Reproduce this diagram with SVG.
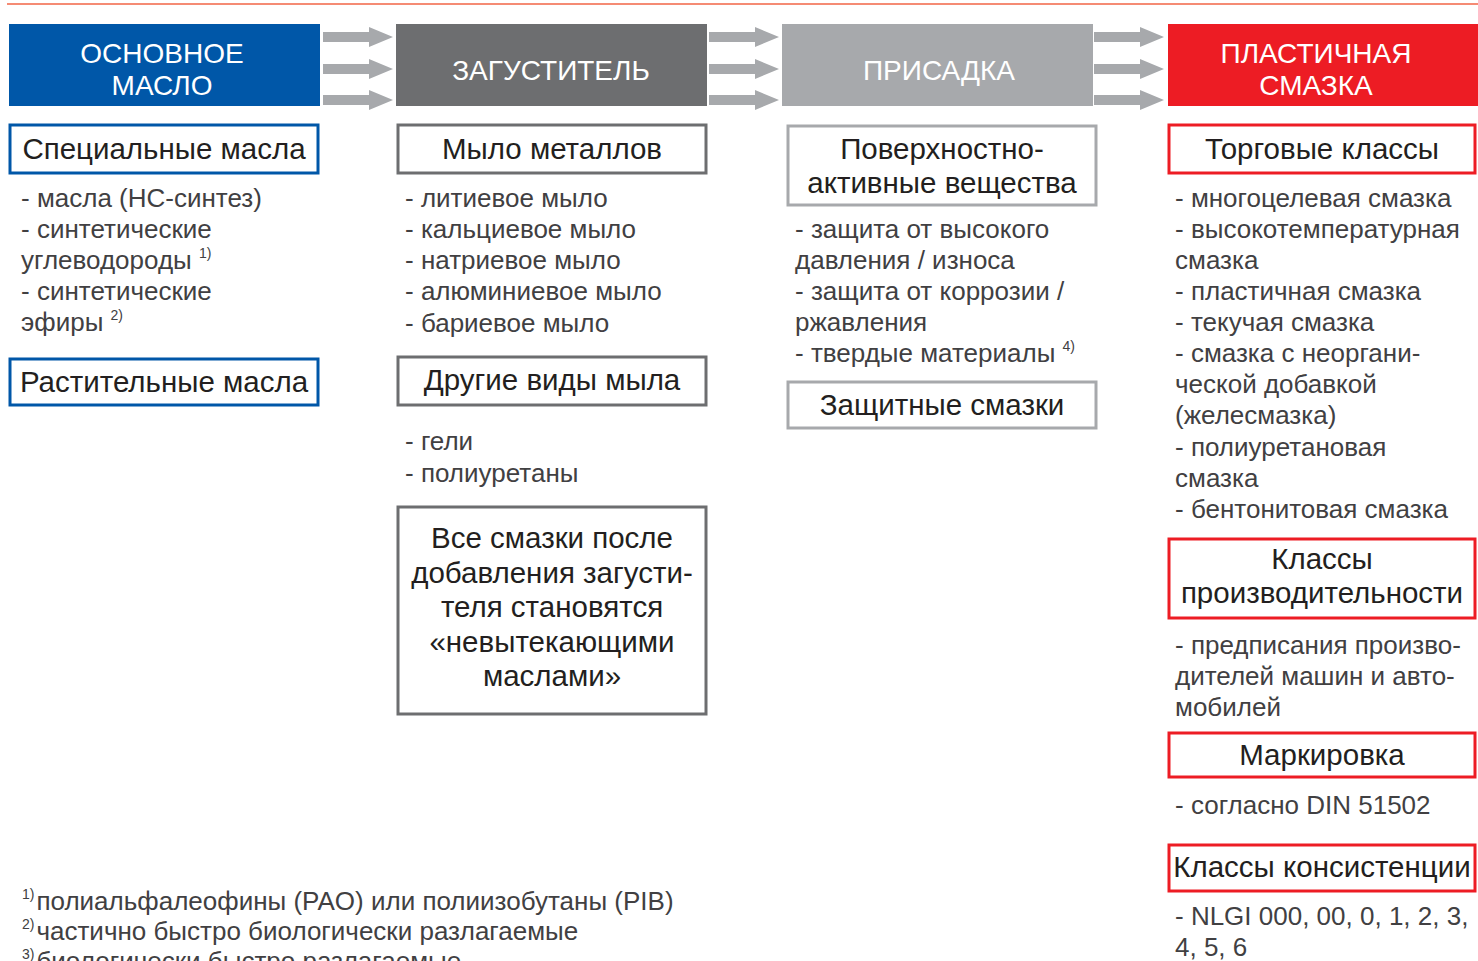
<svg xmlns="http://www.w3.org/2000/svg" width="1478" height="961" viewBox="0 0 1478 961">
<defs>
<style>
.hdr{font-family:"Liberation Sans",Arial,sans-serif;font-size:28px;fill:#ffffff;text-anchor:middle}
.ttl{font-family:"Liberation Sans",Arial,sans-serif;font-size:29.5px;fill:#231f20;text-anchor:middle}
.lst{font-family:"Liberation Sans",Arial,sans-serif;font-size:26px;fill:#414042}
.sup{font-size:14px}
.bx{fill:#ffffff;stroke-width:3}
.blue{stroke:#0057a8}
.dg{stroke:#6d6e70}
.lg{stroke:#a7a9ac}
.red{stroke:#ed1c24}
.arr{fill:#a7a9ac}
</style>
<symbol id="ar" overflow="visible"><path d="M0,-5 H46 V-10 L70,0 L46,10 V5 H0 Z"/></symbol>
</defs>
<rect width="1478" height="961" fill="#ffffff"/>
<line x1="7" y1="4" x2="1478" y2="4" stroke="#f58b74" stroke-width="2"/>

<g id="connectors" class="arr">
<use href="#ar" x="323" y="37"/><use href="#ar" x="323" y="69"/><use href="#ar" x="323" y="100"/>
<use href="#ar" x="709" y="37"/><use href="#ar" x="709" y="69"/><use href="#ar" x="709" y="100"/>
<use href="#ar" x="1094" y="37"/><use href="#ar" x="1094" y="69"/><use href="#ar" x="1094" y="100"/>
</g>

<g id="h-base-oil">
<rect x="9" y="24" width="311" height="82" fill="#0057a8"/>
<text class="hdr" x="162" y="63">ОСНОВНОЕ</text>
<text class="hdr" x="162" y="95">МАСЛО</text>
</g>
<g id="h-thickener">
<rect x="396" y="24" width="311" height="82" fill="#6d6e70"/>
<text class="hdr" x="551" y="80" fill="#f2f2f2">ЗАГУСТИТЕЛЬ</text>
</g>
<g id="h-additive">
<rect x="782" y="24" width="311" height="82" fill="#a7a9ac"/>
<text class="hdr" x="939" y="80">ПРИСАДКА</text>
</g>
<g id="h-grease">
<rect x="1168" y="24" width="310" height="82" fill="#ed1c24"/>
<text class="hdr" x="1316" y="63">ПЛАСТИЧНАЯ</text>
<text class="hdr" x="1316" y="95">СМАЗКА</text>
</g>

<g id="n-special-oils">
<rect class="bx blue" x="10" y="125" width="308" height="48"/>
<text class="ttl" x="164" y="159">Специальные масла</text>
</g>
<g id="l-special-oils" class="lst">
<text x="21" y="207">- масла (НС-синтез)</text>
<text x="21" y="238">- синтетические</text>
<text x="21" y="269">углеводороды <tspan class="sup" dy="-11">1)</tspan></text>
<text x="21" y="300">- синтетические</text>
<text x="21" y="331">эфиры <tspan class="sup" dy="-11">2)</tspan></text>
</g>
<g id="n-veg-oils">
<rect class="bx blue" x="10" y="359" width="308" height="46"/>
<text class="ttl" x="164" y="392">Растительные масла</text>
</g>

<g id="n-metal-soap">
<rect class="bx dg" x="398" y="125" width="308" height="48"/>
<text class="ttl" x="552" y="159">Мыло металлов</text>
</g>
<g id="l-metal-soap" class="lst">
<text x="405" y="207">- литиевое мыло</text>
<text x="405" y="238">- кальциевое мыло</text>
<text x="405" y="269">- натриевое мыло</text>
<text x="405" y="300">- алюминиевое мыло</text>
<text x="405" y="332">- бариевое мыло</text>
</g>
<g id="n-other-soap">
<rect class="bx dg" x="398" y="357" width="308" height="48"/>
<text class="ttl" x="552" y="390">Другие виды мыла</text>
</g>
<g id="l-other-soap" class="lst">
<text x="405" y="450">- гели</text>
<text x="405" y="482">- полиуретаны</text>
</g>
<g id="n-note">
<rect class="bx dg" x="398" y="507" width="308" height="207"/>
<text class="ttl" x="552" y="548">Все смазки после</text>
<text class="ttl" x="552" y="583">добавления загусти-</text>
<text class="ttl" x="552" y="617">теля становятся</text>
<text class="ttl" x="552" y="652">«невытекающими</text>
<text class="ttl" x="552" y="686">маслами»</text>
</g>

<g id="n-surfactants">
<rect class="bx lg" x="788" y="126" width="308" height="79"/>
<text class="ttl" x="942" y="159">Поверхностно-</text>
<text class="ttl" x="942" y="193">активные вещества</text>
</g>
<g id="l-surfactants" class="lst">
<text x="795" y="238">- защита от высокого</text>
<text x="795" y="269">давления / износа</text>
<text x="795" y="300">- защита от коррозии /</text>
<text x="795" y="331">ржавления</text>
<text x="795" y="362">- твердые материалы <tspan class="sup" dy="-11">4)</tspan></text>
</g>
<g id="n-protective">
<rect class="bx lg" x="788" y="382" width="308" height="46"/>
<text class="ttl" x="942" y="415">Защитные смазки</text>
</g>

<g id="n-trade">
<rect class="bx red" x="1169" y="125" width="306" height="48"/>
<text class="ttl" x="1322" y="159">Торговые классы</text>
</g>
<g id="l-trade" class="lst">
<text x="1175" y="207">- многоцелевая смазка</text>
<text x="1175" y="238">- высокотемпературная</text>
<text x="1175" y="269">смазка</text>
<text x="1175" y="300">- пластичная смазка</text>
<text x="1175" y="331">- текучая смазка</text>
<text x="1175" y="362">- смазка с неоргани-</text>
<text x="1175" y="393">ческой добавкой</text>
<text x="1175" y="424">(желесмазка)</text>
<text x="1175" y="456">- полиуретановая</text>
<text x="1175" y="487">смазка</text>
<text x="1175" y="518">- бентонитовая смазка</text>
</g>
<g id="n-performance">
<rect class="bx red" x="1169" y="539" width="306" height="79"/>
<text class="ttl" x="1322" y="569">Классы</text>
<text class="ttl" x="1322" y="603">производительности</text>
</g>
<g id="l-performance" class="lst">
<text x="1175" y="654">- предписания произво-</text>
<text x="1175" y="685">дителей машин и авто-</text>
<text x="1175" y="716">мобилей</text>
</g>
<g id="n-marking">
<rect class="bx red" x="1169" y="733" width="306" height="44"/>
<text class="ttl" x="1322" y="765">Маркировка</text>
</g>
<g id="l-marking" class="lst">
<text x="1175" y="814">- согласно DIN 51502</text>
</g>
<g id="n-consistency">
<rect class="bx red" x="1169" y="845" width="306" height="46"/>
<text class="ttl" x="1322" y="877">Классы консистенции</text>
</g>
<g id="l-consistency" class="lst">
<text x="1175" y="925">- NLGI 000, 00, 0, 1, 2, 3,</text>
<text x="1175" y="956">4, 5, 6</text>
</g>

<g id="footnotes" class="lst">
<text x="22" y="910"><tspan class="sup" dy="-11">1)</tspan><tspan dy="11" dx="2">полиальфалеофины (PAO) или полиизобутаны (PIB)</tspan></text>
<text x="22" y="940"><tspan class="sup" dy="-11">2)</tspan><tspan dy="11" dx="2">частично быстро биологически разлагаемые</tspan></text>
<text x="22" y="970"><tspan class="sup" dy="-11">3)</tspan><tspan dy="11" dx="2">биологически быстро разлагаемые</tspan></text>
</g>
</svg>
